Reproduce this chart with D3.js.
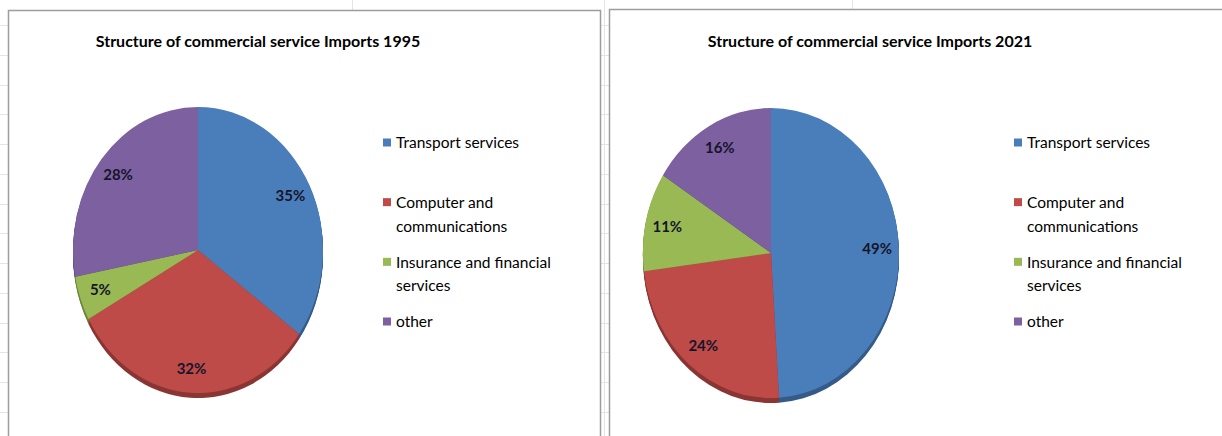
<!DOCTYPE html>
<html>
<head>
<meta charset="utf-8">
<script src="https://cdn.jsdelivr.net/npm/d3@7"></script>
<style>
  html, body { margin: 0; padding: 0; background: #ffffff; }
  svg { display: block; }
  text { font-family: Lato, "Open Sans", "DejaVu Sans", sans-serif; }
</style>
</head>
<body>
<svg id="chart" width="1222" height="436"></svg>
<script>
// Service import categories, in slice order (clockwise from 12 o'clock)
const categories = [
  "Transport services",
  "Computer and communications",
  "Insurance and financial services",
  "other"
];
// Legend entries wrap onto two lines where the text is long
const legendLines = [
  ["Transport services"],
  ["Computer and", "communications"],
  ["Insurance and financial", "services"],
  ["other"]
];
// Shares of commercial service imports, percent
const shares1995 = [35, 32, 5, 28];
const shares2021 = [49, 24, 11, 16];
const titles = [
  "Structure of commercial service Imports 1995",
  "Structure of commercial service Imports 2021"
];
const colors = ["#4a7ebb", "#be4b48", "#98b954", "#7d60a0"];

const svg = d3.select("#chart");
const W = 1222, H = 436;

// faint worksheet grid behind the chart panels
const grid = svg.append("g").attr("stroke", "#e4e4e4").attr("stroke-width", 1);
d3.range(25, H, 29.75).forEach(y => {
  grid.append("line").attr("x1", 0).attr("x2", W).attr("y1", Math.round(y) + 0.5).attr("y2", Math.round(y) + 0.5);
});
[352, 604, 852].forEach(x => {
  grid.append("line").attr("x1", x + 0.5).attr("x2", x + 0.5).attr("y1", 0).attr("y2", H);
});

const panels = [
  { values: shares1995, title: titles[0], frame: [8.5, 10.5, 592, 440],
    titleX: 258, cx: 198, cy: 250, rx: 125, ry: 143, legendX: 383 },
  { values: shares2021, title: titles[1], frame: [609.5, 9.5, 640, 440],
    titleX: 870, cx: 771, cy: 253, rx: 128, ry: 145, legendX: 1014 }
];

const depth = 5;
const labelFrac = 0.83;

panels.forEach(p => {
  const g = svg.append("g");

  g.append("rect")
    .attr("x", p.frame[0]).attr("y", p.frame[1])
    .attr("width", p.frame[2]).attr("height", p.frame[3])
    .attr("fill", "#ffffff")
    .attr("stroke", "#9d9d9d").attr("stroke-width", 1.5);

  g.append("text")
    .attr("x", p.titleX).attr("y", 47)
    .attr("text-anchor", "middle")
    .attr("font-size", 16).attr("font-weight", 700)
    .attr("fill", "#000000")
    .text(p.title);

  const pie = d3.pie().sort(null).value(d => d)(p.values);
  const arc = d3.arc().innerRadius(0).outerRadius(p.rx);
  const sy = p.ry / p.rx;

  // side wall of the tilted pie: stacked darker copies shifted downward
  const side = g.append("g");
  d3.range(depth, 0, -1).forEach(dy => {
    side.append("g")
      .attr("transform", `translate(${p.cx},${p.cy + dy}) scale(1,${sy})`)
      .selectAll("path").data(pie).join("path")
      .attr("d", arc)
      .attr("fill", (d, i) => d3.color(colors[i]).darker(0.9));
  });

  // top face
  g.append("g")
    .attr("transform", `translate(${p.cx},${p.cy}) scale(1,${sy})`)
    .selectAll("path").data(pie).join("path")
    .attr("d", arc)
    .attr("fill", (d, i) => colors[i]);

  // percentage labels inside the slices
  g.selectAll("text.pct").data(pie).join("text")
    .attr("class", "pct")
    .attr("x", d => p.cx + Math.sin((d.startAngle + d.endAngle) / 2) * p.rx * labelFrac)
    .attr("y", d => p.cy - Math.cos((d.startAngle + d.endAngle) / 2) * p.ry * labelFrac)
    .attr("dy", "0.35em")
    .attr("text-anchor", "middle")
    .attr("font-size", 15).attr("font-weight", 700)
    .attr("fill", "#15152a")
    .text(d => d.data + "%");

  // legend
  const rowY = d3.scaleLinear().domain([0, 3]).range([143, 322]);
  const leg = g.append("g");
  categories.forEach((c, i) => {
    const y = rowY(i);
    leg.append("rect")
      .attr("x", p.legendX).attr("y", y - 4.5)
      .attr("width", 8).attr("height", 8)
      .attr("fill", colors[i]);
    const t = leg.append("text")
      .attr("x", p.legendX + 13).attr("y", y)
      .attr("font-size", 15.5)
      .attr("fill", "#000000");
    legendLines[i].forEach((line, k) => {
      t.append("tspan").attr("x", p.legendX + 13).attr("dy", k === 0 ? "0.35em" : 23.5).text(line);
    });
  });
});
</script>
</body>
</html>
